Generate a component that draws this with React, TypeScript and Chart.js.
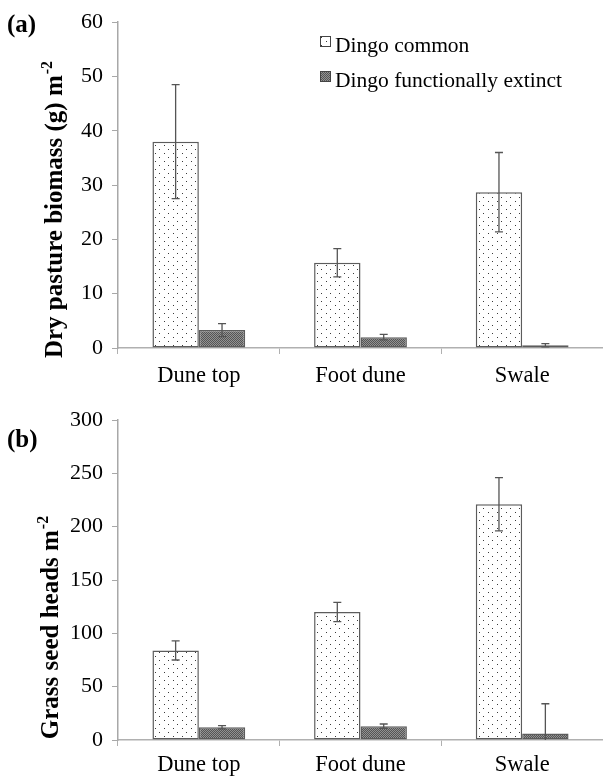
import React, { useEffect, useRef } from "react";
import { Chart, registerables } from "chart.js";

Chart.register(...registerables);

// ---------- data ----------
const categories = ["Dune top", "Foot dune", "Swale"];
const seriesNames = ["Dingo common", "Dingo functionally extinct"];

const biomassCommon = [38, 15.7, 28.7];
const biomassCommonErr = [10.5, 2.6, 7.3];
const biomassExtinct = [3.3, 2.0, 0.5];
const biomassExtinctErr = [1.2, 0.5, 0.3];
const biomassAxis = [0, 60, 10]; // min, max, step

const seedCommon = [84, 120, 221];
const seedCommonErr = [9, 9, 25];
const seedExtinct = [12, 13, 6];
const seedExtinctErr = [1.5, 2, 28];
const seedAxis = [0, 300, 50];

const panelLetters = ["(a)", "(b)"];
const yTitles = ["Dry pasture biomass (g) m", "Grass seed heads m"];
const yTitleSup = "-2";

const SERIF = "'Liberation Serif', 'Times New Roman', serif";

function dotPattern(ctx: CanvasRenderingContext2D) {
  const c = document.createElement("canvas");
  c.width = 9;
  c.height = 8;
  const g = c.getContext("2d")!;
  g.fillStyle = "#ffffff";
  g.fillRect(0, 0, 9, 8);
  g.fillStyle = "#3a3a3a";
  g.fillRect(2, 1, 1, 1);
  g.fillRect(6, 5, 1, 1);
  return ctx.createPattern(c, "repeat")!;
}

function hatchPattern(ctx: CanvasRenderingContext2D) {
  const c = document.createElement("canvas");
  c.width = 2;
  c.height = 2;
  const g = c.getContext("2d")!;
  g.fillStyle = "#929292";
  g.fillRect(0, 0, 2, 2);
  g.fillStyle = "#555555";
  g.fillRect(0, 0, 1, 1);
  g.fillRect(1, 1, 1, 1);
  return ctx.createPattern(c, "repeat")!;
}

const errorBarPlugin = {
  id: "errbars",
  afterDatasetsDraw(chart: any) {
    const ctx = chart.ctx;
    const yScale = chart.scales.y;
    const area = chart.chartArea;
    ctx.save();
    ctx.strokeStyle = "#555555";
    ctx.lineWidth = 1.3;
    chart.data.datasets.forEach((ds: any, i: number) => {
      const meta = chart.getDatasetMeta(i);
      meta.data.forEach((el: any, j: number) => {
        const v = ds.data[j];
        const e = ds.errors[j];
        const x = el.x;
        const yHi = yScale.getPixelForValue(v + e);
        const lowV = v - e;
        const clamped = lowV < yScale.min;
        const yLo = yScale.getPixelForValue(clamped ? yScale.min : lowV);
        ctx.beginPath();
        ctx.moveTo(x, yHi);
        ctx.lineTo(x, Math.min(yLo, area.bottom));
        ctx.moveTo(x - 4, yHi);
        ctx.lineTo(x + 4, yHi);
        if (!clamped) {
          ctx.moveTo(x - 4, yLo);
          ctx.lineTo(x + 4, yLo);
        }
        ctx.stroke();
      });
    });
    ctx.restore();
  },
};

function makeDecor(letterIdx: number, letterY: number, titleX: number, titleY: number, withLegend: boolean) {
  return {
    id: "decor" + letterIdx,
    afterDraw(chart: any) {
      const ctx = chart.ctx;
      ctx.save();
      // panel letter
      ctx.fillStyle = "#000";
      ctx.font = `bold 25px ${SERIF}`;
      ctx.textAlign = "left";
      ctx.textBaseline = "alphabetic";
      ctx.fillText(panelLetters[letterIdx], 7, letterY);

      // y title (rotated) with superscript
      const main = yTitles[letterIdx];
      ctx.font = `bold 25px ${SERIF}`;
      const wMain = ctx.measureText(main).width;
      ctx.font = `bold 16px ${SERIF}`;
      const wSup = ctx.measureText(yTitleSup).width;
      const total = wMain + wSup;
      ctx.translate(titleX, titleY);
      ctx.rotate(-Math.PI / 2);
      ctx.font = `bold 25px ${SERIF}`;
      ctx.fillText(main, -total / 2, 0);
      ctx.font = `bold 16px ${SERIF}`;
      ctx.fillText(yTitleSup, -total / 2 + wMain + 1, -10);
      ctx.setTransform(1, 0, 0, 1, 0, 0);

      if (withLegend) {
        const rows = [36, 71];
        chart.data.datasets.forEach((ds: any, i: number) => {
          const y = rows[i];
          ctx.fillStyle = ds.backgroundColor;
          ctx.fillRect(320, y, 11, 11);
          ctx.strokeStyle = "#444";
          ctx.lineWidth = 1;
          ctx.strokeRect(320.5, y + 0.5, 10, 10);
          ctx.fillStyle = "#000";
          ctx.font = `21.5px ${SERIF}`;
          ctx.textAlign = "left";
          ctx.textBaseline = "alphabetic";
          ctx.fillText(seriesNames[i], 335, y + 16);
        });
      }
      ctx.restore();
    },
  };
}

function buildChart(
  canvas: HTMLCanvasElement,
  common: number[],
  commonErr: number[],
  extinct: number[],
  extinctErr: number[],
  axis: number[],
  padTop: number,
  xAxisH: number,
  xLabelPad: number,
  decor: any
) {
  const ctx = canvas.getContext("2d")!;
  const dots = dotPattern(ctx);
  const hatch = hatchPattern(ctx);
  return new Chart(ctx, {
    type: "bar",
    data: {
      labels: categories,
      datasets: [
        {
          label: seriesNames[0],
          data: common,
          errors: commonErr,
          backgroundColor: dots,
          borderColor: "#5c5c5c",
          borderWidth: 1.5,
          borderSkipped: false,
          categoryPercentage: 0.574,
          barPercentage: 1,
        } as any,
        {
          label: seriesNames[1],
          data: extinct,
          errors: extinctErr,
          backgroundColor: hatch,
          borderColor: "#5c5c5c",
          borderWidth: 1.5,
          borderSkipped: false,
          categoryPercentage: 0.574,
          barPercentage: 1,
        } as any,
      ],
    },
    options: {
      responsive: false,
      animation: false,
      devicePixelRatio: 1,
      layout: { padding: { top: padTop, left: 0, right: 0, bottom: 0 } },
      plugins: { legend: { display: false }, tooltip: { enabled: false } },
      scales: {
        x: {
          grid: { offset: true, drawOnChartArea: false, drawTicks: true, tickLength: 6, color: "#b0b0b0" },
          border: { display: true, color: "#b0b0b0", width: 1.5 },
          ticks: { color: "#000", font: { family: SERIF, size: 22.5 }, padding: xLabelPad, maxRotation: 0 },
          afterFit: (s: any) => {
            s.height = xAxisH;
          },
        },
        y: {
          min: axis[0],
          max: axis[1],
          grid: { drawOnChartArea: false, drawTicks: true, tickLength: 6, color: "#a8a8a8" },
          border: { display: true, color: "#a8a8a8", width: 1.5 },
          ticks: { stepSize: axis[2], color: "#000", font: { family: SERIF, size: 22 }, padding: 9 },
          afterFit: (s: any) => {
            s.width = 118;
          },
        },
      },
    },
    plugins: [errorBarPlugin, decor],
  } as any);
}

export default function App() {
  const topRef = useRef<HTMLCanvasElement>(null);
  const botRef = useRef<HTMLCanvasElement>(null);

  useEffect(() => {
    const c1 = buildChart(
      topRef.current!,
      biomassCommon,
      biomassCommonErr,
      biomassExtinct,
      biomassExtinctErr,
      biomassAxis,
      16,
      43,
      9,
      makeDecor(0, 32, 62, 210, true)
    );
    const c2 = buildChart(
      botRef.current!,
      seedCommon,
      seedCommonErr,
      seedExtinct,
      seedExtinctErr,
      seedAxis,
      29,
      42,
      6,
      makeDecor(1, 56, 58, 237, false)
    );
    return () => {
      c1.destroy();
      c2.destroy();
    };
  }, []);

  return (
    <div style={{ position: "absolute", left: 0, top: 0, width: 603, height: 782, background: "#fff" }}>
      <canvas ref={topRef} width={603} height={391} style={{ position: "absolute", left: 0, top: 0, display: "block" }} />
      <canvas ref={botRef} width={603} height={391} style={{ position: "absolute", left: 0, top: 391, display: "block" }} />
    </div>
  );
}
